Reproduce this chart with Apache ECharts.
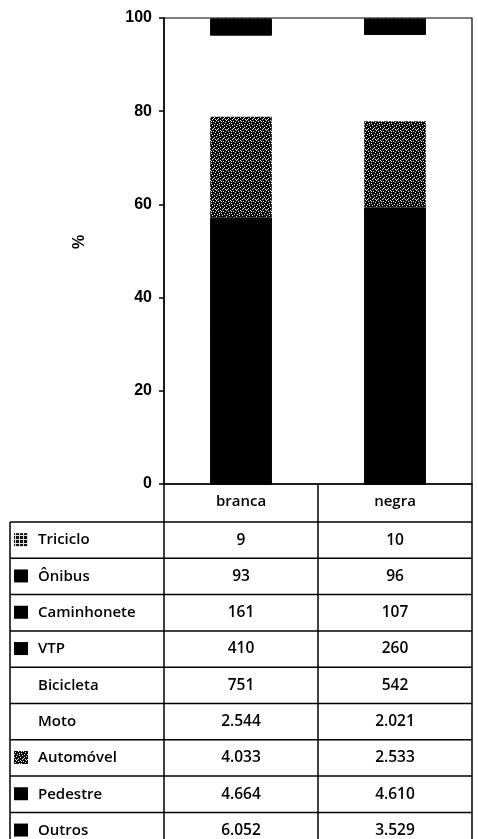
<!DOCTYPE html>
<html>
<head>
<meta charset="utf-8">
<script src="https://cdn.jsdelivr.net/npm/echarts@6/dist/echarts.min.js"></script>
<style>
  html, body { margin: 0; padding: 0; background: #fff; }
  #chart { width: 478px; height: 839px; }
</style>
</head>
<body>
<div id="chart"></div>
<script>
// Accident victims by vehicle type and skin colour (counts), shown as 100% stacked bars
const categories = ['branca', 'negra'];
// Table order, top to bottom (stacking order is the reverse)
const vehicleTypes = ['Triciclo', 'Ônibus', 'Caminhonete', 'VTP', 'Bicicleta', 'Moto', 'Automóvel', 'Pedestre', 'Outros'];
const brancaCounts = [9, 93, 161, 410, 751, 2544, 4033, 4664, 6052];
const negraCounts  = [10, 96, 107, 260, 542, 2021, 2533, 4610, 3529];
const yTickLabels = [0, 20, 40, 60, 80, 100];

// Fill style for each vehicle type, same order as vehicleTypes
const fillKinds = ['hatch', 'solid', 'solid', 'solid', 'none', 'none', 'speckle', 'solid', 'solid'];

function makePattern(kind) {
  const c = document.createElement('canvas');
  const ctx = c.getContext('2d');
  if (kind === 'speckle') {
    c.width = 10; c.height = 10;
    ctx.fillStyle = '#0a0a0a';
    ctx.fillRect(0, 0, 10, 10);
    ctx.fillStyle = '#eeeeee';
    const dots = [[0,0],[3,1],[6,0],[8,1],[1,3],[5,2],[7,4],[2,5],[4,4],[9,5],
                  [6,6],[0,7],[3,8],[5,9],[8,8],[1,1],[9,3],[4,7],[7,9],[2,9]];
    dots.forEach(([x, y]) => ctx.fillRect(x, y, 1, 1));
  } else {
    c.width = 4; c.height = 4;
    ctx.fillStyle = '#111';
    ctx.fillRect(0, 0, 4, 4);
    ctx.fillStyle = '#ddd';
    ctx.fillRect(0, 3, 4, 1);
    ctx.fillRect(3, 0, 1, 4);
  }
  return c;
}

function fillFor(kind) {
  if (kind === 'solid') return '#000';
  if (kind === 'none') return 'rgba(0,0,0,0)';
  return { image: makePattern(kind), repeat: 'repeat' };
}

function formatPt(n) {
  return String(n).replace(/\B(?=(\d{3})+(?!\d))/g, '.');
}

const counts = [brancaCounts, negraCounts];
const totals = counts.map(a => a.reduce((s, v) => s + v, 0));

// Bottom-up stacking: Outros first, Triciclo last
const stackOrder = vehicleTypes.map((_, i) => i).reverse();
const series = stackOrder.map(i => ({
  name: vehicleTypes[i],
  type: 'bar',
  stack: 'share',
  barWidth: '40%',
  // a 1px hard shadow closes the anti-aliasing seam between adjacent black blocks
  itemStyle: fillKinds[i] === 'solid'
    ? { color: '#000', shadowColor: '#000', shadowBlur: 0, shadowOffsetY: 1 }
    : { color: fillFor(fillKinds[i]) },
  emphasis: { disabled: true },
  data: categories.map((_, c) => counts[c][i] / totals[c] * 100)
}));

const chart = echarts.init(document.getElementById('chart'), null, { renderer: 'canvas' });

const gridLeft = 164, gridRight = 6, gridTop = 18, gridBottom = 355;
const tableLeft = 10, headerH = 38, rowH = 36.3;
const textFont = '"Open Sans", "Noto Sans", sans-serif';
const tickFont = '"Liberation Sans", Arial, sans-serif';

chart.setOption({
  animation: false,
  backgroundColor: '#fff',
  grid: {
    left: gridLeft, right: gridRight, top: gridTop, bottom: gridBottom,
    show: true, borderColor: '#000', borderWidth: 1.2, backgroundColor: 'transparent'
  },
  xAxis: {
    type: 'category',
    data: categories,
    axisLine: { lineStyle: { color: '#000', width: 1.5 } },
    axisTick: { show: false },
    axisLabel: { color: '#000', fontSize: 15, fontWeight: 600, fontFamily: textFont, margin: 10 }
  },
  yAxis: {
    type: 'value',
    min: 0, max: 100, interval: 20,
    splitLine: { show: false },
    axisLine: { show: true, lineStyle: { color: '#000', width: 1.5 } },
    axisTick: { show: true, length: 5, lineStyle: { color: '#000', width: 1.5 } },
    axisLabel: {
      color: '#000', fontSize: 16, fontWeight: 'bold',
      fontFamily: tickFont, margin: 12,
      formatter: v => (yTickLabels.includes(v) ? String(v) : '')
    }
  },
  series: series
});

// Axis title and data table under the plot, aligned to the category axis
function buildTable() {
  const axisY = chart.convertToPixel({ yAxisIndex: 0 }, 0);
  const centers = categories.map(c => chart.convertToPixel({ xAxisIndex: 0 }, c));
  const plotRight = 478 - gridRight;
  const colW = (plotRight - gridLeft) / categories.length;
  const firstRowTop = axisY + headerH;
  const tableBottom = firstRowTop + rowH * vehicleTypes.length;
  const elements = [];
  const line = (x1, y1, x2, y2) => elements.push({
    type: 'line', shape: { x1, y1, x2, y2 },
    style: { stroke: '#000', lineWidth: 1.5 }, silent: true
  });

  elements.push({
    type: 'text', x: 80, y: 242, rotation: Math.PI / 2,
    style: { text: '%', fill: '#000', font: 'bold 16px ' + tickFont, align: 'center', verticalAlign: 'middle' },
    silent: true
  });

  // Vertical rules
  line(gridLeft, axisY, gridLeft, tableBottom);
  for (let c = 1; c <= categories.length; c++) {
    const x = gridLeft + colW * c;
    line(x, axisY, x, tableBottom);
  }
  line(tableLeft, firstRowTop, tableLeft, tableBottom);
  // Horizontal rules
  line(gridLeft, axisY + headerH, plotRight, axisY + headerH);
  line(tableLeft, firstRowTop, gridLeft, firstRowTop);
  for (let r = 1; r <= vehicleTypes.length; r++) {
    const y = firstRowTop + rowH * r;
    line(tableLeft, y, plotRight, y);
  }

  vehicleTypes.forEach((name, i) => {
    const cy = firstRowTop + rowH * i + rowH / 2;
    const kind = fillKinds[i];
    if (kind !== 'none') {
      elements.push({
        type: 'rect', shape: { x: 14, y: cy - 7, width: 14, height: 13 },
        style: { fill: fillFor(kind) }, silent: true
      });
    }
    elements.push({
      type: 'text', x: 38, y: cy,
      style: { text: name, fill: '#000', font: '600 15px ' + textFont, verticalAlign: 'middle' },
      silent: true
    });
    categories.forEach((cat, c) => {
      elements.push({
        type: 'text', x: centers[c], y: cy,
        style: {
          text: formatPt(counts[c][i]), fill: '#000', font: '600 15.5px ' + textFont,
          align: 'center', verticalAlign: 'middle'
        },
        silent: true
      });
    });
  });
  chart.setOption({ graphic: { elements } });
}
buildTable();
</script>
</body>
</html>
